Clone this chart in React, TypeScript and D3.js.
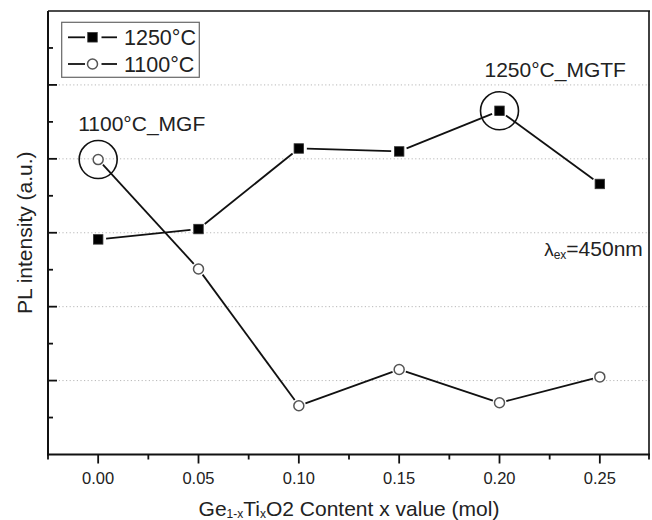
import React from "react";
import * as d3 from "d3";

// Ge(1-x)Ti(x)O2 content (mol)
const xValues = [0.0, 0.05, 0.1, 0.15, 0.2, 0.25];
// PL intensity (a.u.) for each sintering temperature
const pl1250 = [2.91, 3.05, 4.14, 4.1, 4.65, 3.66];
const pl1100 = [3.99, 2.51, 0.66, 1.15, 0.7, 1.05];
const seriesNames = ["1250°C", "1100°C"];
const xTickLabels = ["0.00", "0.05", "0.10", "0.15", "0.20", "0.25"];

const W = 652;
const H = 520;
const FONT = "'Liberation Sans', Arial, Helvetica, sans-serif";

const frame = { left: 48, right: 650, top: 11, bottom: 454.5 };

const x = d3.scaleLinear().domain([-0.025, 0.275]).range([frame.left, frame.right]);
const y = d3.scaleLinear().domain([0, 6]).range([frame.bottom, frame.top]);

type Pt = [number, number];

// line segments between markers, trimmed so that a small gap is left round each marker
function gappedSegments(pts: Pt[], gap: number): Pt[][] {
  const out: Pt[][] = [];
  for (let i = 0; i < pts.length - 1; i++) {
    const [x0, y0] = pts[i];
    const [x1, y1] = pts[i + 1];
    const dx = x1 - x0;
    const dy = y1 - y0;
    const len = Math.hypot(dx, dy);
    const ux = dx / len;
    const uy = dy / len;
    out.push([
      [x0 + ux * gap, y0 + uy * gap],
      [x1 - ux * gap, y1 - uy * gap],
    ]);
  }
  return out;
}

const lineGen = d3.line<Pt>();

function Square({ cx, cy, s = 9.5 }: { cx: number; cy: number; s?: number }) {
  return (
    <rect
      x={cx - s / 2}
      y={cy - s / 2}
      width={s}
      height={s}
      fill="#000"
      stroke="#333"
      strokeWidth={0.8}
    />
  );
}

function Ring({ cx, cy, r = 5 }: { cx: number; cy: number; r?: number }) {
  return <circle cx={cx} cy={cy} r={r} fill="#fff" stroke="#555" strokeWidth={1.5} />;
}

export default function App() {
  const pts1250: Pt[] = xValues.map((v, i) => [x(v), y(pl1250[i])]);
  const pts1100: Pt[] = xValues.map((v, i) => [x(v), y(pl1100[i])]);

  const majorY = d3.range(1, 6);
  const minorY = d3.range(0.5, 6, 1);
  const majorX = xValues;
  const minorX = d3.range(-0.025, 0.2751, 0.05);

  const mgf = pts1100[0];
  const mgtf = pts1250[4];
  const last1250 = pts1250[5];

  const legendX = 68;
  const legendRows = [37.3, 64];

  return (
    <svg
      width={W}
      height={H}
      viewBox={`0 0 ${W} ${H}`}
      style={{ position: "absolute", left: 0, top: 0, background: "#fff" }}
      fontFamily={FONT}
    >
      <rect x={0} y={0} width={W} height={H} fill="#fff" />

      {/* horizontal dotted grid */}
      {majorY.map((v) => (
        <line
          key={`g${v}`}
          x1={frame.left}
          x2={frame.right}
          y1={y(v)}
          y2={y(v)}
          stroke="#b8b8b8"
          strokeWidth={1}
          strokeDasharray="1.2 2.4"
        />
      ))}

      {/* frame */}
      <line x1={frame.left} x2={frame.right} y1={frame.top} y2={frame.top} stroke="#111" strokeWidth={1.6} />
      <line x1={frame.right - 1} x2={frame.right - 1} y1={frame.top} y2={frame.bottom} stroke="#111" strokeWidth={1.6} />
      <line x1={frame.left} x2={frame.left} y1={frame.top} y2={frame.bottom + 1} stroke="#111" strokeWidth={2} />
      <line x1={frame.left - 1} x2={frame.right} y1={frame.bottom} y2={frame.bottom} stroke="#111" strokeWidth={2} />

      {/* y ticks (inward) */}
      {majorY.map((v) => (
        <line key={`yt${v}`} x1={frame.left} x2={frame.left + 9} y1={y(v)} y2={y(v)} stroke="#111" strokeWidth={1.8} />
      ))}
      {minorY.map((v) => (
        <line key={`ym${v}`} x1={frame.left} x2={frame.left + 5} y1={y(v)} y2={y(v)} stroke="#111" strokeWidth={1.8} />
      ))}

      {/* x ticks (outward) */}
      {majorX.map((v) => (
        <line key={`xt${v}`} x1={x(v)} x2={x(v)} y1={frame.bottom} y2={frame.bottom + 9} stroke="#111" strokeWidth={1.8} />
      ))}
      {minorX.map((v) => (
        <line
          key={`xm${v.toFixed(3)}`}
          x1={Math.min(x(v), frame.right - 1)}
          x2={Math.min(x(v), frame.right - 1)}
          y1={frame.bottom}
          y2={frame.bottom + 5}
          stroke="#111"
          strokeWidth={1.8}
        />
      ))}
      {majorX.map((v, i) => (
        <text key={`xl${v}`} x={x(v)} y={484} textAnchor="middle" fontSize={16.5} fill="#222">
          {xTickLabels[i]}
        </text>
      ))}

      {/* axis titles */}
      <text x={349} y={516} textAnchor="middle" fontSize={21} fill="#222">
        Ge<tspan fontSize={12} dy={2}>1-x</tspan>
        <tspan dy={-2}>Ti</tspan>
        <tspan fontSize={12} dy={2}>x</tspan>
        <tspan dy={-2}>O2 Content x value (mol)</tspan>
      </text>
      <text
        transform={`translate(32, ${(frame.top + frame.bottom) / 2}) rotate(-90)`}
        textAnchor="middle"
        fontSize={21}
        fill="#222"
      >
        PL intensity (a.u.)
      </text>

      {/* series lines */}
      {gappedSegments(pts1250, 8).map((seg, i) => (
        <path key={`s1250-${i}`} d={lineGen(seg) || ""} stroke="#111" strokeWidth={1.8} fill="none" />
      ))}
      {gappedSegments(pts1100, 7).map((seg, i) => (
        <path key={`s1100-${i}`} d={lineGen(seg) || ""} stroke="#111" strokeWidth={1.8} fill="none" />
      ))}

      {/* markers */}
      {pts1250.map(([cx, cy], i) => (
        <Square key={`m1250-${i}`} cx={cx} cy={cy} />
      ))}
      {pts1100.map(([cx, cy], i) => (
        <Ring key={`m1100-${i}`} cx={cx} cy={cy} />
      ))}

      {/* highlighted samples */}
      <circle cx={mgf[0]} cy={mgf[1]} r={19} fill="none" stroke="#111" strokeWidth={1.6} />
      <circle cx={mgtf[0]} cy={mgtf[1]} r={19} fill="none" stroke="#111" strokeWidth={1.6} />
      <text x={mgf[0] - 20} y={mgf[1] - 28.6} fontSize={21} fill="#222">
        1100°C_MGF
      </text>
      <text x={mgtf[0] - 15} y={mgtf[1] - 33.5} fontSize={21} fill="#222">
        1250°C_MGTF
      </text>
      <text x={last1250[0] + 43} y={last1250[1] + 72.4} textAnchor="end" fontSize={21} fill="#222">
        <tspan fontSize={19}>λ</tspan>
        <tspan fontSize={12} dy={3}>ex</tspan>
        <tspan dy={-3}>=450nm</tspan>
      </text>

      {/* legend */}
      <rect x={61.7} y={22.3} width={137.6} height={55} fill="#fff" stroke="#666" strokeWidth={1.2} />
      {legendRows.map((ly, i) => (
        <g key={`lg${i}`}>
          <line x1={legendX} x2={legendX + 17} y1={ly} y2={ly} stroke="#111" strokeWidth={1.8} />
          <line x1={legendX + 33.5} x2={legendX + 49} y1={ly} y2={ly} stroke="#111" strokeWidth={1.8} />
          {i === 0 ? <Square cx={legendX + 24.5} cy={ly} /> : <Ring cx={legendX + 24.5} cy={ly} />}
          <text x={124} y={ly + 8} fontSize={21.5} fill="#222">
            {seriesNames[i]}
          </text>
        </g>
      ))}
    </svg>
  );
}
